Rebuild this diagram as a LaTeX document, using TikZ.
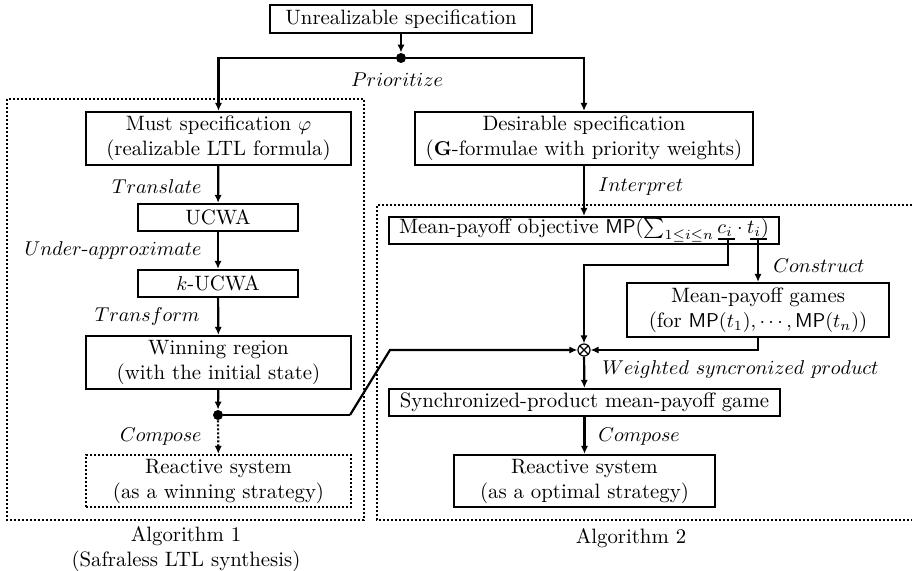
\documentclass[tikz,border=0pt]{standalone}
\usetikzlibrary{arrows.meta}
\begin{document}
\begin{tikzpicture}[x=0.5pt,y=-0.5pt,
  every node/.style={font=\fontsize{10.4pt}{12.5pt}\selectfont},
  lw/.style={line width=1.1pt},
  box/.style={draw, lw, align=center, inner sep=0pt},
  dotted box/.style={box, dash pattern=on 1pt off 1pt},
  frame/.style={lw, dash pattern=on 1pt off 1pt},
  arr/.style={lw, -{Latex[length=4pt,width=3.6pt]}},
  darr/.style={arr, dash pattern=on 1pt off 1pt},
  lbl/.style={inner sep=0pt},
  jdot/.style={circle, fill, inner sep=0pt, minimum size=5pt},
  otim/.style={circle, draw, line width=0.6pt, inner sep=0pt, minimum size=6pt,
    path picture={\draw[line width=0.6pt] (path picture bounding box.north west) -- (path picture bounding box.south east)
      (path picture bounding box.north east) -- (path picture bounding box.south west);}}]
\useasboundingbox (0,0) rectangle (912,571);

% frames
\draw[frame] (7,99) rectangle (364,520);
\draw[frame] (912,205) -- (377,205) -- (377,520) -- (912,520);

% nodes
\node[box, minimum width=131pt, minimum height=14pt] (top) at (401,19) {Unrealizable specification};
\node[jdot] (j1) at (401,58) {};
\node[box, minimum width=132.5pt, minimum height=26.5pt] (must) at (218.5,138.5) {Must specification $\varphi$\\(realizable LTL formula)};
\node[box, minimum width=80pt, minimum height=13.5pt] (ucwa) at (218,217.5) {UCWA};
\node[box, minimum width=80pt, minimum height=13.5pt] (kucwa) at (218,283.5) {$k$-UCWA};
\node[box, minimum width=132.5pt, minimum height=26.5pt] (win) at (218.5,362.5) {Winning region\\(with the initial state)};
\node[jdot] (j2) at (218,415) {};
\node[dotted box, minimum width=132.5pt, minimum height=26pt] (react1) at (218.5,481) {Reactive system\\(as a winning strategy)};

\node[box, minimum width=169pt, minimum height=26.5pt] (des) at (584,138.5) {Desirable specification\\($\mathbf{G}$-formulae with priority weights)};
\node[box, minimum width=195pt, minimum height=13.5pt] (mpobj) at (584,230.5) {Mean-payoff objective $\mathsf{MP}(\sum_{1\leq i\leq n} c_i\cdot t_i)$};
\node[box, minimum width=131pt, minimum height=27pt] (games) at (758,310) {Mean-payoff games\\(for $\mathsf{MP}(t_1),\cdots,\mathsf{MP}(t_n)$)};
\node[otim] (ot) at (584,350) {};
\node[box, minimum width=195.5pt, minimum height=13.5pt] (sync) at (584.5,402.5) {Synchronized-product mean-payoff game};
\node[box, minimum width=130.5pt, minimum height=26pt] (react2) at (584.5,481) {Reactive system\\(as a optimal strategy)};

% underline marks
\coordinate (cuL) at (718,239); \coordinate (cuR) at (735,239); \coordinate (cu) at (728,239);
\coordinate (tuL) at (750,239); \coordinate (tuR) at (767,239); \coordinate (tu) at (758,239);
\coordinate (c1) at (728,265);
\draw[lw] (cuL) -- (cuR);
\draw[lw] (tuL) -- (tuR);

\coordinate (b1) at (350,415);
\coordinate (b2) at (390,350);

% connectors
\draw[arr] (top.south) -- (j1);
\draw[arr] (j1) -| (must.north);
\draw[arr] (j1) -| (des.north);
\draw[arr] (must) -- (ucwa);
\draw[arr] (ucwa) -- (kucwa);
\draw[arr] (kucwa) -- (win);
\draw[arr] (win) -- (j2);
\draw[darr] (j2) -- (react1);
\draw[lw] (j2) -- (b1);
\draw[arr] (b1) -- (b2) -- (ot.west);
\draw[arr] (des) -- (mpobj);
\draw[arr] (cu) -- (c1) -| (ot.north);
\draw[arr] (tu) -- (games.north);
\draw[arr] (games.south) |- (ot.east);
\draw[arr] (ot) -- (sync);
\draw[arr] (sync) -- (react2);

% labels
\node[lbl] (lp) at (397,80) {$Prioritize$};
\node[lbl, anchor=east] (lt) at (202,187) {$Translate$};
\node[lbl, anchor=east] (lu) at (202,251) {$Under\mbox{-}approximate$};
\node[lbl, anchor=east] (ltr) at (200,317) {$Transform$};
\node[lbl, anchor=east] (lc1) at (202,437) {$Compose$};
\node[lbl, anchor=west] (li) at (598,187) {$Interpret$};
\node[lbl, anchor=west] (lco) at (773,266) {$Construct$};
\node[lbl, anchor=west] (lw) at (602,370) {$Weighted\ syncronized\ product$};
\node[lbl, anchor=west] (lc2) at (598,437) {$Compose$};
\node[align=center, inner sep=0pt] (a1) at (186,549) {Algorithm 1\\(Safraless LTL synthesis)};
\node[inner sep=0pt] (a2) at (631,538) {Algorithm 2};
\end{tikzpicture}
\end{document}
